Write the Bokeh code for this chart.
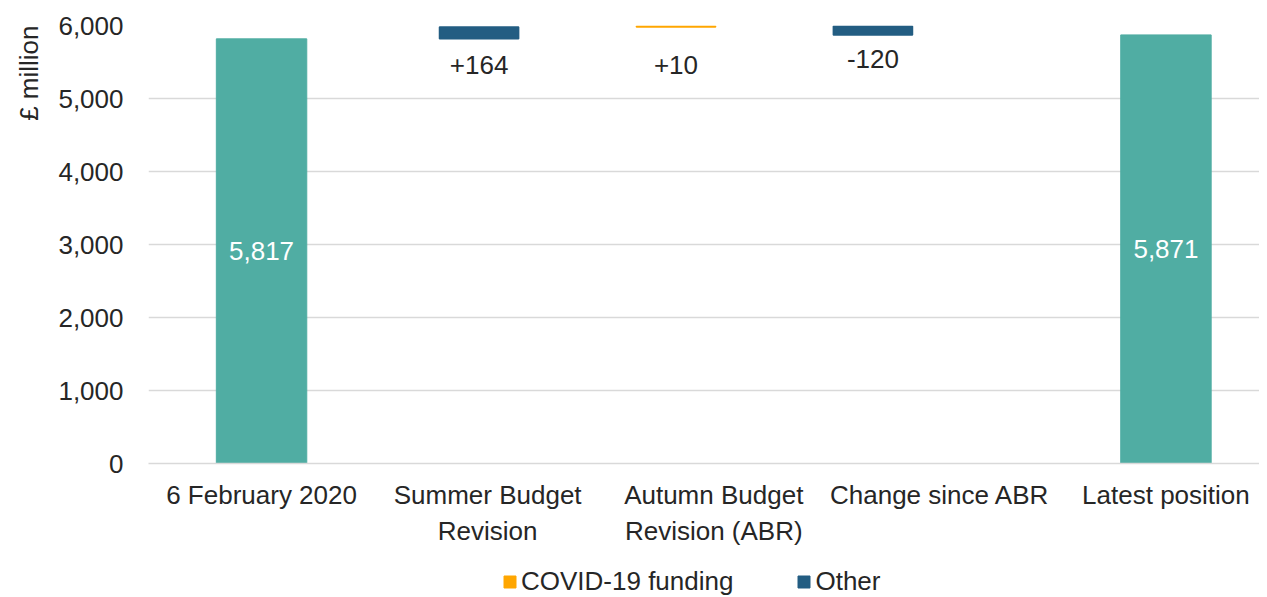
from bokeh.plotting import figure
from bokeh.layouts import column
from bokeh.models import (ColumnDataSource, Range1d, FixedTicker, NumeralTickFormatter,
                          Legend, LegendItem, Title)
from bokeh.core.properties import value
from bokeh.embed import file_html
from bokeh.resources import INLINE

# ---------------- data ----------------
categories = ["6 February 2020", "Summer Budget\nRevision", "Autumn Budget\nRevision (ABR)",
              "Change since ABR", "Latest position"]
start_total = 5817
latest_total = 5871
change_values = [164, 10, -120]
change_series = ["Other", "COVID-19 funding", "Other"]
y_ticks = [0, 1000, 2000, 3000, 4000, 5000, 6000]

# ---------------- style ----------------
FONT = "Liberation Sans"
FS = "26px"
TEXT = "#262626"
TEAL = "#50ADA3"
COLORS = {"COVID-19 funding": "#FFA600", "Other": "#235D82"}
bar_shift = [-0.038, -0.167, -0.296]      # horizontal shift of the step bars (category units)
label_drop = [26, 38, 24]                 # px below the bar bottom for the step labels

# ---------------- derived ----------------
idx = list(range(len(categories)))
tot_src = ColumnDataSource(dict(x=[idx[0], idx[-1]], top=[start_total, latest_total],
                                ymid=[start_total / 2, latest_total / 2],
                                lab=[f"{start_total:,}", f"{latest_total:,}"]))

run = start_total
steps = {s: dict(x=[], bottom=[], top=[]) for s in COLORS}
lab = dict(x=[], y=[], text=[], off=[])
for i, (v, s) in enumerate(zip(change_values, change_series)):
    lo, hi = min(run, run + v), max(run, run + v)
    cx = idx[i + 1] + bar_shift[i]
    steps[s]["x"].append(cx)
    steps[s]["bottom"].append(lo)
    steps[s]["top"].append(hi)
    lab["x"].append(cx)
    lab["y"].append(lo)
    lab["text"].append(f"{v:+d}")
    lab["off"].append(label_drop[i])
    run += v

W, H, HL = 1259, 560, 37
LEFT = 148
p = figure(width=W, height=H, output_backend="svg", toolbar_location=None,
           x_range=Range1d(-0.5, -0.5 + (W - LEFT) / 226.1), y_range=Range1d(0, 6000),
           min_border_left=LEFT, min_border_right=0, min_border_top=25, min_border_bottom=H - 463)
p.outline_line_color = None
p.background_fill_color = "white"
p.border_fill_color = "white"

p.vbar(x="x", top="top", bottom=0, width=0.4, source=tot_src, color=TEAL)
for s, d in steps.items():
    p.vbar(x="x", bottom="bottom", top="top", width=0.35,
           source=ColumnDataSource(d), fill_color=COLORS[s],
           line_color=COLORS[s], line_width=1.5)

p.text(x="x", y="ymid", text="lab", source=tot_src, text_color="white",
       text_font=value(FONT), text_font_size=FS, text_align="center", text_baseline="middle")
p.text(x="x", y="y", text="text", y_offset="off", source=ColumnDataSource(lab), text_color=TEXT,
       text_font=value(FONT), text_font_size=FS, text_align="center", text_baseline="middle")

# axes
p.xaxis.ticker = FixedTicker(ticks=idx)
p.xaxis.major_label_overrides = {i: c for i, c in zip(idx, categories)}
p.xaxis.axis_line_color = "#D9D9D9"
p.xaxis.axis_line_width = 1.5
p.xaxis.major_tick_line_color = None
p.xaxis.minor_tick_line_color = None
p.xaxis.major_tick_out = 0
p.xaxis.major_label_standoff = 16
p.xaxis.major_label_text_font = FONT
p.xaxis.major_label_text_font_size = FS
p.xaxis.major_label_text_color = TEXT

p.yaxis.ticker = FixedTicker(ticks=y_ticks)
p.yaxis.formatter = NumeralTickFormatter(format="0,0")
p.yaxis.axis_line_color = None
p.yaxis.major_tick_line_color = None
p.yaxis.minor_tick_line_color = None
p.yaxis.major_tick_out = 0
p.yaxis.major_label_standoff = 25
p.yaxis.major_label_text_font = FONT
p.yaxis.major_label_text_font_size = FS
p.yaxis.major_label_text_color = TEXT

p.xgrid.grid_line_color = None
p.ygrid.ticker = FixedTicker(ticks=y_ticks)
p.ygrid.grid_line_color = "#D9D9D9"
p.ygrid.grid_line_width = 1.5

p.add_layout(Title(text="£ million", align="right", vertical_align="top", text_font=FONT,
                   text_font_size=FS, text_font_style="normal", text_color=TEXT,
                   standoff=20), "left")

# ---------------- legend strip ----------------
pl = figure(width=W, height=HL, output_backend="svg", toolbar_location=None,
            x_range=Range1d(0, 1), y_range=Range1d(0, 1),
            min_border_left=0, min_border_right=0, min_border_top=0, min_border_bottom=0)
pl.axis.visible = False
pl.grid.grid_line_color = None
pl.outline_line_color = None
pl.background_fill_color = "white"
pl.border_fill_color = "white"
items = []
for s in COLORS:
    # legend-key renderer only; its single point lies outside the strip's ranges
    r = pl.vbar(x=[-10], top=[0], width=0.1, fill_color=COLORS[s], line_color=COLORS[s])
    items.append(LegendItem(label=s, renderers=[r]))
legend = Legend(items=items, orientation="horizontal", location=(502 - LEFT, 0),
                label_text_font=FONT, label_text_font_size=FS, label_text_color=TEXT,
                label_height=30, glyph_width=15, glyph_height=15, label_standoff=4, spacing=63,
                border_line_color=None, background_fill_alpha=0, padding=0, margin=0)
pl.add_layout(legend, "center")

layout = column(p, pl, spacing=0)
open("out.html", "w").write(file_html(layout, INLINE))
